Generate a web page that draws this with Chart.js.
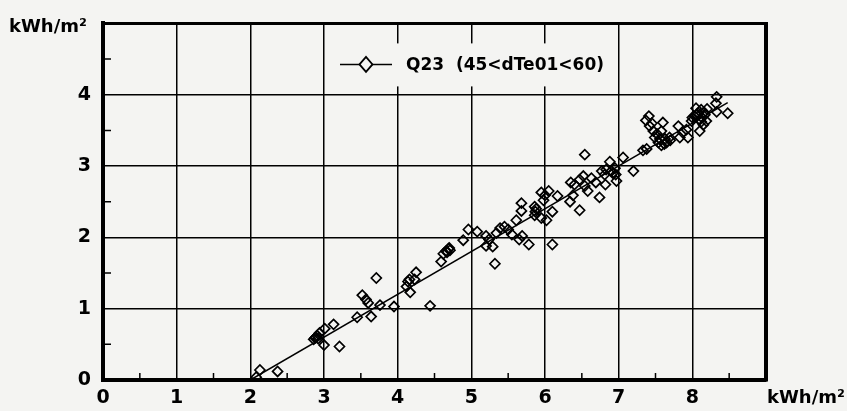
<!DOCTYPE html>
<html>
<head>
<meta charset="utf-8">
<script src="https://cdn.jsdelivr.net/npm/chart.js@4/dist/chart.umd.min.js"></script>
<style>
  html, body { margin: 0; padding: 0; background: #f4f4f2; }
  #wrap { width: 847px; height: 411px; }
</style>
</head>
<body>
<div id="wrap"><canvas id="c" width="847" height="411"></canvas></div>
<script>
// Series and axis data
const seriesLabel = 'Q23  (45<dTe01<60)';
const unitLabel = 'kWh/m²';
const xTicks = [0, 1, 2, 3, 4, 5, 6, 7, 8];
const yTicks = [0, 1, 2, 3, 4];

const q23X = [
  2.08, 2.13, 2.37, 2.86, 2.88, 2.89, 2.91, 2.92, 2.94, 3.01, 3.13, 3.00, 3.21, 3.45, 3.64, 3.52,
  3.57, 3.60, 3.76, 3.71, 3.95, 4.12, 4.14, 4.17, 4.16, 4.23, 4.25, 4.44, 4.59, 4.62, 4.66, 4.67,
  4.69, 4.70, 4.71, 4.89, 4.96, 5.08, 5.20, 5.20, 5.29, 5.32, 5.24, 5.34, 5.39, 5.45, 5.50, 5.55,
  5.65, 5.69, 5.78, 5.61, 5.68, 5.68, 5.86, 5.87, 5.88, 5.86, 5.95, 5.95, 6.00, 5.98, 6.05, 6.02,
  6.10, 6.10, 6.17, 6.34, 6.38, 6.35, 6.40, 6.47, 6.52, 6.47, 6.54, 6.58, 6.54, 6.63, 6.69, 6.74,
  6.77, 6.81, 6.83, 6.82, 6.88, 6.90, 6.92, 6.96, 6.97, 6.95, 7.06, 7.20, 7.33, 7.38, 7.37, 7.41,
  7.42, 7.45, 7.47, 7.49, 7.52, 7.54, 7.56, 7.58, 7.60, 7.58, 7.62, 7.63, 7.69, 7.70, 7.65, 7.81,
  7.83, 7.87, 7.92, 7.94, 7.99, 8.00, 8.03, 8.05, 8.06, 8.08, 8.10, 8.12, 8.12, 8.13, 8.15, 8.16,
  8.17, 8.10, 8.19, 8.20, 8.33, 8.32, 8.33, 8.48
];
const q23Y = [
  0.04, 0.14, 0.12, 0.57, 0.59, 0.60, 0.62, 0.58, 0.66, 0.72, 0.78, 0.49, 0.47, 0.88, 0.89, 1.19,
  1.13, 1.08, 1.05, 1.43, 1.03, 1.31, 1.38, 1.23, 1.41, 1.41, 1.51, 1.04, 1.66, 1.77, 1.81, 1.79,
  1.84, 1.85, 1.82, 1.96, 2.11, 2.08, 2.02, 1.88, 1.87, 1.63, 1.97, 2.06, 2.13, 2.15, 2.11, 2.04,
  1.97, 2.02, 1.90, 2.24, 2.37, 2.48, 2.31, 2.36, 2.40, 2.43, 2.27, 2.63, 2.59, 2.52, 2.65, 2.24,
  2.36, 1.90, 2.58, 2.50, 2.59, 2.77, 2.74, 2.81, 2.86, 2.38, 2.72, 2.65, 3.16, 2.83, 2.77, 2.56,
  2.93, 2.88, 2.95, 2.74, 3.06, 2.93, 2.90, 2.88, 2.79, 2.97, 3.12, 2.93, 3.22, 3.24, 3.64, 3.70,
  3.56, 3.60, 3.49, 3.40, 3.45, 3.33, 3.38, 3.29, 3.61, 3.49, 3.31, 3.38, 3.40, 3.36, 3.33, 3.56,
  3.40, 3.47, 3.51, 3.40, 3.63, 3.68, 3.70, 3.81, 3.72, 3.74, 3.65, 3.79, 3.62, 3.68, 3.58, 3.75,
  3.72, 3.49, 3.63, 3.80, 3.97, 3.88, 3.76, 3.74
];

// Fitted line end points
const fitX = [2.0, 8.48];
const fitY = [0.0, 3.89];

const INK = '#000000';
const PAPER = '#f4f4f2';
const FONT = '"DejaVu Sans", "Liberation Sans", sans-serif';

const isWhole = v => Math.abs(v - Math.round(v)) < 1e-6;

// Frame (top/right), inner half-unit ticks, unit labels and legend
const decorations = {
  id: 'decorations',
  beforeDraw(chart) {
    const ctx = chart.ctx;
    ctx.save();
    ctx.fillStyle = PAPER;
    ctx.fillRect(0, 0, chart.width, chart.height);
    ctx.restore();
  },
  afterDatasetsDraw(chart) {
    const { ctx, chartArea: a, scales: { x, y } } = chart;
    ctx.save();
    ctx.strokeStyle = INK;

    // half-unit ticks pointing into the plot
    ctx.lineWidth = 1.5;
    ctx.beginPath();
    for (let v = 0.5; v < x.max; v += 1) {
      const px = x.getPixelForValue(v);
      ctx.moveTo(px, a.bottom);
      ctx.lineTo(px, a.bottom - 7);
    }
    for (let v = 0.5; v < y.max; v += 1) {
      const py = y.getPixelForValue(v);
      ctx.moveTo(a.left, py);
      ctx.lineTo(a.left + 8, py);
    }
    ctx.stroke();

    // top and right frame
    ctx.lineWidth = 3;
    ctx.beginPath();
    ctx.moveTo(a.left, a.top);
    ctx.lineTo(a.right, a.top);
    ctx.stroke();
    ctx.lineWidth = 4;
    ctx.beginPath();
    ctx.moveTo(a.right, a.top - 1.5);
    ctx.lineTo(a.right, a.bottom + 1.5);
    ctx.stroke();

    // legend
    const lx = a.left + 237, ly = a.top + 41;
    ctx.fillStyle = PAPER;
    ctx.fillRect(lx - 8, ly - 21, 272, 43);
    ctx.lineWidth = 1.5;
    ctx.beginPath();
    ctx.moveTo(lx, ly);
    ctx.lineTo(lx + 52, ly);
    ctx.stroke();
    ctx.beginPath();
    ctx.moveTo(lx + 26 - 6.5, ly);
    ctx.lineTo(lx + 26, ly - 7.5);
    ctx.lineTo(lx + 26 + 6.5, ly);
    ctx.lineTo(lx + 26, ly + 7.5);
    ctx.closePath();
    ctx.fillStyle = PAPER;
    ctx.fill();
    ctx.lineWidth = 1.8;
    ctx.stroke();
    ctx.fillStyle = INK;
    ctx.font = 'bold 17px ' + FONT;
    ctx.textBaseline = 'middle';
    ctx.textAlign = 'left';
    ctx.fillText(chart.data.datasets[0].label, lx + 66, ly + 1);

    // unit labels
    ctx.font = 'bold 18px ' + FONT;
    ctx.textBaseline = 'alphabetic';
    ctx.fillText(unitLabel, 9, 32);
    ctx.fillText(unitLabel, a.right + 1, 403);
    ctx.restore();
  }
};

const chart = new Chart(document.getElementById('c'), {
  data: {
    datasets: [
      {
        type: 'scatter',
        label: seriesLabel,
        data: q23X.map((v, i) => ({ x: v, y: q23Y[i] })),
        pointStyle: 'rectRot',
        radius: 5,
        borderColor: INK,
        backgroundColor: 'rgba(0,0,0,0)',
        borderWidth: 1.7,
        order: 0
      },
      {
        type: 'line',
        label: 'fit',
        data: fitX.map((v, i) => ({ x: v, y: fitY[i] })),
        borderColor: INK,
        borderWidth: 1.5,
        pointRadius: 0,
        fill: false,
        order: 1
      }
    ]
  },
  options: {
    responsive: false,
    animation: false,
    devicePixelRatio: 1,
    layout: { padding: { left: 0, top: 12, right: 81, bottom: 0 } },
    plugins: { legend: { display: false }, tooltip: { enabled: false } },
    scales: {
      x: {
        type: 'linear',
        min: 0,
        max: 9,
        afterFit: s => { s.height = 31; },
        ticks: {
          stepSize: 0.5,
          autoSkip: false,
          maxRotation: 0,
          padding: 7,
          color: INK,
          font: { family: FONT, size: 19, weight: 'bold' },
          callback: v => (isWhole(v) && xTicks.includes(Math.round(v))) ? String(Math.round(v)) : ''
        },
        grid: {
          drawTicks: false,
          lineWidth: 1.5,
          color: c => (c.tick && isWhole(c.tick.value)) ? INK : 'rgba(0,0,0,0)'
        },
        border: { display: true, color: INK, width: 4 }
      },
      y: {
        type: 'linear',
        min: 0,
        max: 5,
        afterFit: s => { s.width = 103; },
        ticks: {
          stepSize: 0.5,
          autoSkip: false,
          padding: 12,
          color: INK,
          font: { family: FONT, size: 19, weight: 'bold' },
          callback: v => (isWhole(v) && yTicks.includes(Math.round(v))) ? String(Math.round(v)) : ''
        },
        grid: {
          drawTicks: false,
          lineWidth: 1.5,
          color: c => (c.tick && isWhole(c.tick.value)) ? INK : 'rgba(0,0,0,0)'
        },
        border: { display: true, color: INK, width: 4 }
      }
    }
  },
  plugins: [decorations]
});
</script>
</body>
</html>
